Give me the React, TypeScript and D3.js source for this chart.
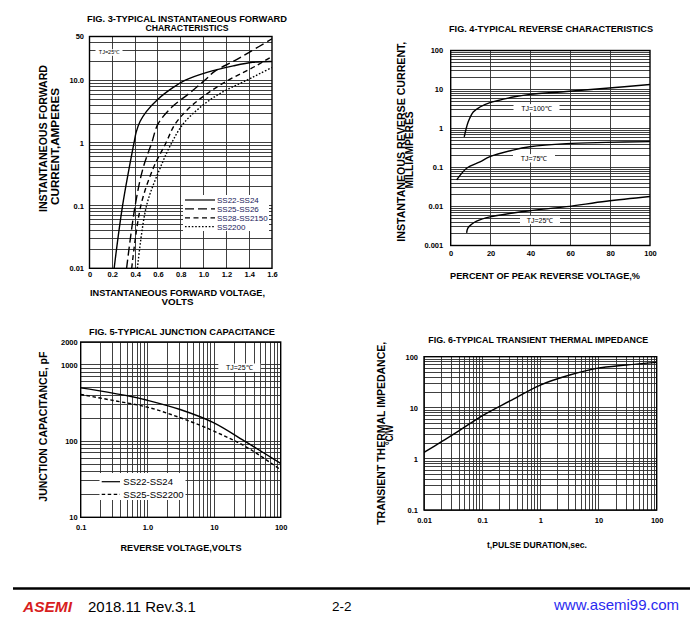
import * as d3 from "d3";
import { useEffect, useRef } from "react";

type Pt = [number, number];
type G = d3.Selection<SVGGElement, unknown, null, undefined>;

const FONT = "'Liberation Sans', Arial, Helvetica, sans-serif";

// FIG. 3 - forward characteristics (volts, amperes)
const fig3VoltTicks = [0, 0.2, 0.4, 0.6, 0.8, 1.0, 1.2, 1.4, 1.6];
const fig3VoltLabels = ["0", "0.2", "0.4", "0.6", "0.8", "1.0", "1.2", "1.4", "1.6"];
const fig3AmpTicks = [0.01, 0.1, 1, 10, 50];
const fig3AmpLabels = ["0.01", "0.1", "1", "10.0", "50"];
const fig3Names = ["SS22-SS24", "SS25-SS26", "SS28-SS2150", "SS2200"];
const fwdSS22: Pt[] = [
  [0.216, 0.01], [0.29, 0.1], [0.39, 1], [0.41, 1.5], [0.443, 2.2], [0.5, 3.2],
  [0.6, 5], [0.734, 7.7], [0.836, 10], [1.03, 13.4], [1.26, 17], [1.43, 19.4], [1.6, 20],
];
const fwdSS25: Pt[] = [
  [0.325, 0.01], [0.4, 0.1], [0.47, 0.4], [0.545, 1], [0.6, 2], [0.72, 3.7],
  [0.87, 6.1], [1.01, 10], [1.1, 14], [1.26, 20], [1.4, 28], [1.6, 46],
];
const fwdSS28: Pt[] = [
  [0.37, 0.01], [0.45, 0.1], [0.56, 0.4], [0.67, 1], [0.75, 2], [0.88, 3.7],
  [1.03, 6.1], [1.215, 10], [1.35, 13.4], [1.46, 17], [1.6, 24],
];
const fwdSS2200: Pt[] = [
  [0.42, 0.01], [0.5, 0.1], [0.62, 0.4], [0.72, 1], [0.82, 2], [0.97, 3.7],
  [1.14, 6.1], [1.376, 10], [1.5, 13], [1.6, 16],
];

// FIG. 4 - reverse characteristics (% of PRV, milliamperes)
const fig4PctTicks = [0, 20, 40, 60, 80, 100];
const fig4MaTicks = [0.001, 0.01, 0.1, 1, 10, 100];
const fig4MaLabels = ["0.001", "0.01", "0.1", "1", "10", "100"];
const revTj100: Pt[] = [
  [6.8, 0.61], [8.8, 1.48], [11.3, 2.66], [14.7, 3.56], [19.7, 4.6], [31.3, 6.4],
  [39.7, 7.5], [58, 8.9], [78, 10.8], [100, 13.4],
];
const revTj75: Pt[] = [
  [3, 0.048], [8, 0.096], [14.7, 0.14], [19.7, 0.19], [31.3, 0.28], [39.7, 0.34],
  [58, 0.41], [78, 0.44], [100, 0.46],
];
const revTj25: Pt[] = [
  [8, 0.0021], [8.6, 0.0028], [10.5, 0.0035], [13, 0.0042], [19.7, 0.0054],
  [31.3, 0.0068], [39.7, 0.0078], [58, 0.0099], [78, 0.0136], [100, 0.018],
];

// FIG. 5 - junction capacitance (volts, pF)
const fig5VoltTicks = [0.1, 1, 10, 100];
const fig5VoltLabels = ["0.1", "1.0", "10", "100"];
const fig5PfTicks = [10, 100, 1000, 2000];
const fig5PfLabels = ["10", "100", "1000", "2000"];
const fig5Names = ["SS22-SS24", "SS25-SS2200"];
const capSS22: Pt[] = [
  [0.1, 500], [0.174, 464], [0.55, 388], [1.0, 344], [3.1, 260], [9.8, 175], [31, 96], [100, 51],
];
const capSS25: Pt[] = [
  [0.1, 410], [0.31, 341], [1.0, 279], [3.1, 203], [9.8, 136], [31, 83], [100, 42],
];

// FIG. 6 - transient thermal impedance (sec, °C/W)
const fig6TimeTicks = [0.01, 0.1, 1, 10, 100];
const fig6TimeLabels = ["0.01", "0.1", "1", "10", "100"];
const fig6ZTicks = [0.1, 1, 10, 100];
const fig6ZLabels = ["0.1", "1", "10", "100"];
const thermal: Pt[] = [
  [0.01, 1.34], [0.02, 2.17], [0.0416, 3.67], [0.105, 7.2], [0.3, 13.6], [1, 27.9],
  [3.2, 43.8], [9.3, 59], [30, 68.7], [100, 77.5],
];

function logSteps(lo: number, hi: number) {
  const out: number[] = [];
  for (let e = Math.floor(Math.log10(lo)); e <= Math.ceil(Math.log10(hi)); e++) {
    for (let k = 1; k < 10; k++) {
      const v = +(k * Math.pow(10, e)).toPrecision(3);
      if (v >= lo * 0.999 && v <= hi * 1.001) out.push(v);
    }
  }
  return out;
}

function drawGrid(g: G, x: any, y: any, xs: number[], ys: number[]) {
  const [x0, x1] = x.range();
  const [y0, y1] = y.range();
  const grid = g.append("g").attr("shape-rendering", "crispEdges");
  grid.selectAll("line.v").data(xs).join("line").attr("class", "v")
    .attr("x1", (d: number) => x(d)).attr("x2", (d: number) => x(d))
    .attr("y1", y0).attr("y2", y1)
    .attr("stroke", "#2b2b2b").attr("stroke-width", 0.9);
  grid.selectAll("line.h").data(ys).join("line").attr("class", "h")
    .attr("y1", (d: number) => y(d)).attr("y2", (d: number) => y(d))
    .attr("x1", x0).attr("x2", x1)
    .attr("stroke", "#2b2b2b").attr("stroke-width", 0.9);
}

function drawFrame(g: G, x: any, y: any) {
  const [x0, x1] = x.range();
  const [y0, y1] = y.range();
  g.append("rect").attr("x", x0).attr("y", y1)
    .attr("width", x1 - x0).attr("height", y0 - y1)
    .attr("fill", "none").attr("stroke", "#000").attr("stroke-width", 1.4);
}

function drawAxes(
  g: G, x: any, y: any,
  xTicks: number[], xLabels: string[], yTicks: number[], yLabels: string[],
  xPad: number, yPad: number,
) {
  const y0 = y.range()[0];
  const x0 = x.range()[0];
  const bottom = g.append("g").attr("transform", `translate(0,${y0})`)
    .call(d3.axisBottom(x).tickValues(xTicks).tickFormat((_, i) => xLabels[i]).tickSize(0).tickPadding(xPad));
  const left = g.append("g").attr("transform", `translate(${x0},0)`)
    .call(d3.axisLeft(y).tickValues(yTicks).tickFormat((_, i) => yLabels[i]).tickSize(0).tickPadding(yPad));
  [bottom, left].forEach((a) => {
    a.select(".domain").remove();
    a.attr("font-family", FONT).attr("font-size", 7.5).attr("font-weight", "bold");
    a.selectAll("text").attr("fill", "#000");
  });
}

function drawCurve(g: G, x: any, y: any, pts: Pt[], dash: string | null, clip: string) {
  const line = d3.line<Pt>()
    .x((d) => x(d[0]))
    .y((d) => y(d[1]))
    .curve(d3.curveCatmullRom.alpha(0.5));
  g.append("path").datum(pts)
    .attr("d", line)
    .attr("fill", "none")
    .attr("stroke", "#000")
    .attr("stroke-width", 1.4)
    .attr("stroke-dasharray", dash)
    .attr("clip-path", `url(#${clip})`);
}

function text(g: G, s: string, x: number, y: number, size: number, len?: number, weight = "bold") {
  const t = g.append("text").attr("x", x).attr("y", y)
    .attr("text-anchor", "middle").attr("font-size", size)
    .attr("font-weight", weight).attr("font-family", FONT).attr("fill", "#000")
    .text(s);
  if (len) t.attr("textLength", len).attr("lengthAdjust", "spacingAndGlyphs");
  return t;
}

function vText(g: G, s: string, baseX: number, cy: number, size: number, len: number) {
  g.append("text")
    .attr("transform", `translate(${baseX},${cy}) rotate(-90)`)
    .attr("text-anchor", "middle").attr("font-size", size)
    .attr("font-weight", "bold").attr("font-family", FONT).attr("fill", "#000")
    .attr("textLength", len).attr("lengthAdjust", "spacingAndGlyphs")
    .text(s);
}

function boxedText(g: G, s: string, cx: number, cy: number, w: number, size: number) {
  g.append("rect").attr("x", cx - w / 2).attr("y", cy - size * 0.6)
    .attr("width", w).attr("height", size * 1.2).attr("fill", "#fff");
  text(g, s, cx, cy + size * 0.36, size, undefined, "normal");
}

function clipFor(defs: any, id: string, x: any, y: any) {
  const [x0, x1] = x.range();
  const [y0, y1] = y.range();
  defs.append("clipPath").attr("id", id).append("rect")
    .attr("x", x0).attr("y", y1).attr("width", x1 - x0).attr("height", y0 - y1);
}

export default function App() {
  const svgRef = useRef<SVGSVGElement>(null);

  useEffect(() => {
    if (!svgRef.current) return;
    const svg = d3.select(svgRef.current);
    svg.selectAll("*").remove();
    const defs = svg.append("defs");
    const root = svg.append("g") as unknown as G;

    // ---------- FIG. 3 ----------
    {
      const x = d3.scaleLinear().domain([0, 1.6]).range([89.5, 272]);
      const y = d3.scaleLog().domain([0.01, 50]).range([268.3, 36.5]);
      const g = root.append("g") as G;
      clipFor(defs, "c3", x, y);
      drawGrid(g, x, y, fig3VoltTicks.slice(1, -1), logSteps(0.01, 50));
      boxedText(g, "TJ=25℃", 109, 52.5, 27, 5.5);
      const dashes = [null, "9,4", "5,3.5", "1.6,1.8"];
      [fwdSS22, fwdSS25, fwdSS28, fwdSS2200].forEach((s, i) => drawCurve(g, x, y, s, dashes[i], "c3"));
      // legend
      g.append("rect").attr("x", 183).attr("y", 195).attr("width", 86).attr("height", 36).attr("fill", "#fff");
      fig3Names.forEach((n, i) => {
        const cy = 200 + i * 8.9;
        g.append("line").attr("x1", 185).attr("x2", 215).attr("y1", cy).attr("y2", cy)
          .attr("stroke", "#000").attr("stroke-width", 1.2).attr("stroke-dasharray", dashes[i]);
        g.append("text").attr("x", 217).attr("y", cy + 2.8).attr("font-size", 8)
          .attr("font-family", FONT).attr("fill", "#20205a").text(n);
      });
      drawFrame(g, x, y);
      drawAxes(g, x, y, fig3VoltTicks, fig3VoltLabels, fig3AmpTicks, fig3AmpLabels, 3.4, 5.5);
      text(g, "FIG. 3-TYPICAL INSTANTANEOUS FORWARD", 187, 22.3, 9, 200);
      text(g, "CHARACTERISTICS", 187, 31, 9, 83);
      vText(g, "INSTANTANEOUS FORWARD", 46.5, 138.5, 10, 147);
      vText(g, "CURRENT,AMPERES", 59.3, 146.5, 10, 117);
      text(g, "INSTANTANEOUS FORWARD VOLTAGE,", 177.5, 295.7, 8.5, 175);
      text(g, "VOLTS", 177.5, 304.5, 8.5, 32);
    }

    // ---------- FIG. 4 ----------
    {
      const x = d3.scaleLinear().domain([0, 100]).range([450.7, 650]);
      const y = d3.scaleLog().domain([0.001, 100]).range([245.5, 50.5]);
      const g = root.append("g") as G;
      clipFor(defs, "c4", x, y);
      drawGrid(g, x, y, fig4PctTicks.slice(1, -1), logSteps(0.001, 100));
      [revTj100, revTj75, revTj25].forEach((s) => drawCurve(g, x, y, s, null, "c4"));
      boxedText(g, "TJ=100℃", 536.5, 108.3, 46, 7);
      boxedText(g, "TJ=75℃", 534, 158.3, 42, 7);
      boxedText(g, "TJ=25℃", 540, 220, 40, 7);
      drawFrame(g, x, y);
      drawAxes(g, x, y, fig4PctTicks, fig4PctTicks.map(String), fig4MaTicks, fig4MaLabels, 5, 7.5);
      text(g, "FIG. 4-TYPICAL REVERSE CHARACTERISTICS", 551, 32.3, 9, 204);
      vText(g, "INSTANTANEOUS REVERSE CURRENT,", 405, 141.7, 10, 200);
      vText(g, "MILLIAMPERES", 413.3, 150, 10, 77);
      text(g, "PERCENT OF PEAK REVERSE VOLTAGE,%", 545, 279, 8.5, 190);
    }

    // ---------- FIG. 5 ----------
    {
      const x = d3.scaleLog().domain([0.1, 100]).range([80.7, 280.7]);
      const y = d3.scaleLog().domain([10, 2000]).range([517.3, 342]);
      const g = root.append("g") as G;
      clipFor(defs, "c5", x, y);
      drawGrid(g, x, y, logSteps(0.1, 100), logSteps(10, 2000));
      boxedText(g, "TJ=25℃", 239.3, 367.7, 42, 7);
      const dashes = [null, "3.5,2.5"];
      [capSS22, capSS25].forEach((s, i) => drawCurve(g, x, y, s, dashes[i], "c5"));
      g.append("rect").attr("x", 99.5).attr("y", 473).attr("width", 86).attr("height", 27).attr("fill", "#fff");
      fig5Names.forEach((n, i) => {
        const cy = 481.7 + i * 12.6;
        g.append("line").attr("x1", 101.7).attr("x2", 120).attr("y1", cy).attr("y2", cy)
          .attr("stroke", "#000").attr("stroke-width", 1.2).attr("stroke-dasharray", dashes[i]);
        g.append("text").attr("x", 123.3).attr("y", cy + 3.4).attr("font-size", 9.5)
          .attr("font-family", FONT).attr("fill", "#000").text(n);
      });
      drawFrame(g, x, y);
      drawAxes(g, x, y, fig5VoltTicks, fig5VoltLabels, fig5PfTicks, fig5PfLabels, 7, 3);
      text(g, "FIG. 5-TYPICAL JUNCTION CAPACITANCE", 182, 335, 9, 186);
      vText(g, "JUNCTION CAPACITANCE, pF", 47.3, 426.7, 10, 150);
      text(g, "REVERSE VOLTAGE,VOLTS", 181, 550.7, 8.5, 121);
    }

    // ---------- FIG. 6 ----------
    {
      const x = d3.scaleLog().domain([0.01, 100]).range([424, 656.7]);
      const y = d3.scaleLog().domain([0.1, 100]).range([510, 356.7]);
      const g = root.append("g") as G;
      clipFor(defs, "c6", x, y);
      drawGrid(g, x, y, logSteps(0.01, 100), logSteps(0.1, 100));
      drawCurve(g, x, y, thermal, null, "c6");
      drawFrame(g, x, y);
      drawAxes(g, x, y, fig6TimeTicks, fig6TimeLabels, fig6ZTicks, fig6ZLabels, 7.5, 6);
      text(g, "FIG. 6-TYPICAL TRANSIENT THERMAL IMPEDANCE", 538.3, 343.3, 9, 220);
      vText(g, "TRANSIENT THERMAL IMPEDANCE,", 385, 433.3, 10, 183);
      vText(g, "°C/W", 393, 435, 10, 20);
      text(g, "t,PULSE DURATION,sec.", 537, 547.5, 8.5, 100);
    }

    // ---------- footer ----------
    const foot = root.append("g") as G;
    foot.append("line").attr("x1", 13).attr("x2", 690).attr("y1", 588.5).attr("y2", 588.5)
      .attr("stroke", "#000").attr("stroke-width", 2.6);
    foot.append("text").attr("x", 23).attr("y", 612).attr("font-size", 15.5)
      .attr("font-weight", 900).attr("font-style", "italic").attr("font-family", FONT)
      .attr("fill", "#d81e1e").attr("textLength", 49).attr("lengthAdjust", "spacingAndGlyphs")
      .text("ASEMI");
    foot.append("text").attr("x", 88).attr("y", 612).attr("font-size", 15)
      .attr("font-family", FONT).attr("fill", "#000").text("2018.11 Rev.3.1");
    foot.append("text").attr("x", 332).attr("y", 611).attr("font-size", 13.5)
      .attr("font-family", FONT).attr("fill", "#000").text("2-2");
    foot.append("text").attr("x", 554).attr("y", 610).attr("font-size", 15)
      .attr("font-family", FONT).attr("fill", "#2a2af0").text("www.asemi99.com");
  }, []);

  return (
    <svg
      ref={svgRef}
      width={700}
      height={623}
      style={{ position: "absolute", left: 0, top: 0, background: "#fff" }}
    />
  );
}
